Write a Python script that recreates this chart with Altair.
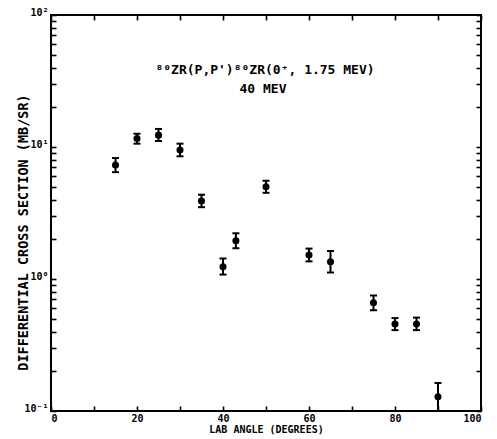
import altair as alt
import pandas as pd

# ---- data ----
angles = [15, 20, 25, 30, 35, 40, 43, 50, 60, 65, 75, 80, 85, 90]
sigma = [7.3, 11.6, 12.3, 9.5, 3.9, 1.24, 1.95, 5.0, 1.52, 1.35, 0.66, 0.456, 0.456, 0.128]
sigma_lo = [6.45, 10.6, 11.1, 8.5, 3.5, 1.08, 1.71, 4.5, 1.36, 1.12, 0.58, 0.41, 0.41, 0.10]
sigma_hi = [8.25, 12.6, 13.7, 10.6, 4.35, 1.43, 2.22, 5.55, 1.70, 1.63, 0.75, 0.506, 0.51, 0.163]

x_ticks = list(range(0, 101, 10))
x_label_step = 20
y_decades = [0.1, 1, 10, 100]
y_decade_labels = ["10⁻¹", "10⁰", "10¹", "10²"]
y_ticks = sorted(set([round(d * m, 6) for d in (0.1, 1, 10) for m in range(1, 10)] + [100]))

annotation_line1 = "⁸⁰ZR(P,P')⁸⁰ZR(0⁺, 1.75 MEV)"
annotation_line2 = "40 MEV"
x_title = "LAB ANGLE (DEGREES)"
y_title = "DIFFERENTIAL CROSS SECTION (MB/SR)"

FONT = "DejaVu Sans Mono"

df = pd.DataFrame({"angle": angles, "sigma": sigma, "lo": sigma_lo, "hi": sigma_hi})

y_label_expr = " : ".join(
    f"datum.value == {v} ? '{t}'" for v, t in zip(y_decades, y_decade_labels)
) + " : ''"

xscale = alt.Scale(domain=[0, 100], nice=False, zero=False)
yscale = alt.Scale(type="log", domain=[0.1, 100], nice=False)

common_axis = dict(
    offset=-5, tickSize=5, domain=False, grid=False, tickColor="black", tickWidth=1.6,
    labelColor="black", titleColor="black", labelFont=FONT, titleFont=FONT,
    labelFontWeight="bold", titleFontWeight="bold", labelOverlap=False,
)

x_bottom = alt.Axis(values=x_ticks, labelExpr=f"datum.value % {x_label_step} == 0 ? datum.label : ''",
                    labelFlush=True, labelPadding=2, labelFontSize=10, title=x_title,
                    titleFontSize=10, titlePadding=1, orient="bottom", **common_axis)
x_top = alt.Axis(values=x_ticks, labels=False, title=None, orient="top", **common_axis)
y_left = alt.Axis(values=y_ticks, labelExpr=y_label_expr, labelBaseline="alphabetic",
                  labelPadding=3, labelFontSize=10, title=y_title, titleFontSize=13.5,
                  titlePadding=-7, titleY=217, orient="left", **common_axis)
y_right = alt.Axis(values=y_ticks, labels=False, title=None, orient="right", **common_axis)

base = alt.Chart(df)

points = base.mark_circle(size=50, color="black", opacity=1).encode(
    x=alt.X("angle:Q", scale=xscale, axis=x_bottom),
    y=alt.Y("sigma:Q", scale=yscale, axis=y_left),
)

bars = base.mark_rule(color="black", strokeWidth=2).encode(
    x=alt.X("angle:Q", scale=xscale, axis=x_top),
    y=alt.Y("lo:Q", scale=yscale, axis=y_right),
    y2="hi:Q",
)

cap_lo = base.mark_tick(orient="horizontal", size=7, thickness=2, color="black", opacity=1).encode(
    x=alt.X("angle:Q", scale=xscale, axis=None),
    y=alt.Y("lo:Q", scale=yscale, axis=None),
)
cap_hi = base.mark_tick(orient="horizontal", size=7, thickness=2, color="black", opacity=1).encode(
    x=alt.X("angle:Q", scale=xscale, axis=None),
    y=alt.Y("hi:Q", scale=yscale, axis=None),
)

ann_df = pd.DataFrame({"t1": [annotation_line1], "t2": [annotation_line2]})
ann1 = alt.Chart(ann_df).mark_text(font=FONT, fontSize=13, fontWeight="bold", color="black",
                                   baseline="middle", align="center").encode(
    text="t1:N", x=alt.value(214), y=alt.value(55))
ann2 = alt.Chart(ann_df).mark_text(font=FONT, fontSize=13, fontWeight="bold", color="black",
                                   baseline="middle", align="center").encode(
    text="t2:N", x=alt.value(212), y=alt.value(74))

chart = alt.layer(bars, cap_lo, cap_hi, points, ann1, ann2).resolve_axis(
    x="independent", y="independent"
).properties(
    width=430, height=396,
    autosize=alt.AutoSizeParams(type="none"),
    padding={"left": 43, "top": 7, "right": 8, "bottom": 26},
    background="white",
).configure_view(stroke="black", strokeWidth=2)

chart.save("out.html", embed_options={"renderer": "svg", "actions": False})
